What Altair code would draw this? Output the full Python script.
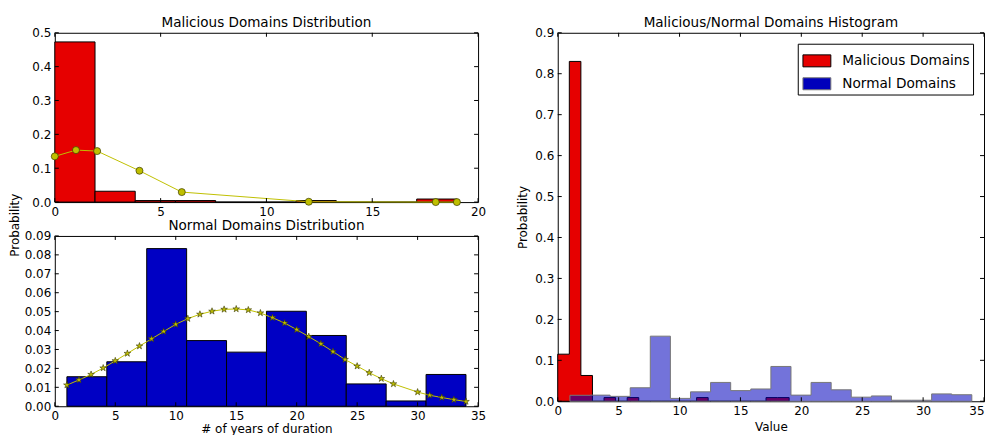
import altair as alt
import pandas as pd

# ---------------- data ----------------
# Top-left: malicious domains (10 bins, density) + fitted curve
mal_edges = [0, 1.9, 3.8, 5.7, 7.6, 9.5, 11.4, 13.3, 15.2, 17.1, 19]
mal_density = [0.473, 0.032, 0.0045, 0.0045, 0.0, 0.0, 0.0045, 0.0, 0.0, 0.009]
mal_fit_x = [0, 1, 2, 4, 6, 12, 18, 19]
mal_fit_y = [0.135, 0.1535, 0.1506, 0.0925, 0.0295, 0.001, 0.0, 0.0]

# Bottom-left: normal domains (10 bins, density) + fitted curve
nor_edges = [1, 4.3, 7.6, 10.9, 14.2, 17.5, 20.8, 24.1, 27.4, 30.7, 34]
nor_density = [0.0156, 0.0235, 0.0833, 0.0347, 0.0286, 0.0502, 0.0374, 0.0118, 0.0028, 0.0168]
nor_fit_x = [1, 2, 3, 4, 5, 6, 7, 8, 9, 10, 11, 12, 13, 14, 15, 16, 17, 18, 19, 20,
             21, 22, 23, 24, 25, 26, 27, 28, 30, 31, 32, 33, 34]
nor_fit_y = [0.0112, 0.0139, 0.0168, 0.0202, 0.0240, 0.0279, 0.0318, 0.0356, 0.0395, 0.0433,
             0.0463, 0.0486, 0.0502, 0.0512, 0.0514, 0.0509, 0.0493, 0.0468, 0.0440, 0.0405,
             0.0368, 0.0330, 0.0289, 0.0247, 0.0212, 0.0177, 0.0146, 0.0118, 0.0075, 0.0058,
             0.0046, 0.0035, 0.0025]

# Right: overlaid histograms (20 bins each)
series_names = ["Malicious Domains", "Normal Domains"]
hist_mal_edges = [0, 0.95, 1.9, 2.85, 3.8, 4.75, 5.7, 6.65, 7.6, 8.55, 9.5, 10.45, 11.4,
                  12.35, 13.3, 14.25, 15.2, 16.15, 17.1, 18.05, 19]
hist_mal = [0.115, 0.830, 0.063, 0.0, 0.009, 0.0, 0.009, 0.0, 0.0, 0.0,
            0.0, 0.0, 0.009, 0.0, 0.0, 0.0, 0.0, 0.0, 0.009, 0.009]
hist_nor_edges = [1, 2.65, 4.3, 5.95, 7.6, 9.25, 10.9, 12.55, 14.2, 15.85, 17.5, 19.15,
                  20.8, 22.45, 24.1, 25.75, 27.4, 29.05, 30.7, 32.35, 34]
hist_nor = [0.0146, 0.015, 0.012, 0.033, 0.159, 0.007, 0.023, 0.046, 0.026, 0.030,
            0.085, 0.015, 0.046, 0.028, 0.010, 0.013, 0.0025, 0.0025, 0.018, 0.016]

# tick values
tl_xticks = [0, 5, 10, 15, 20]
tl_yticks = [0.0, 0.1, 0.2, 0.3, 0.4, 0.5]
bl_xticks = [0, 5, 10, 15, 20, 25, 30, 35]
bl_yticks = [0.0, 0.01, 0.02, 0.03, 0.04, 0.05, 0.06, 0.07, 0.08, 0.09]
r_xticks = [0, 5, 10, 15, 20, 25, 30, 35]
r_yticks = [0.0, 0.1, 0.2, 0.3, 0.4, 0.5, 0.6, 0.7, 0.8, 0.9]

FONT = "DejaVu Sans"
RED = "#e60000"
BLUE = "#0000c4"
YEL = "#bfbf00"
STAR = ("M0,-1L0.223,-0.307L0.951,-0.309L0.361,0.117L0.588,0.809L0,0.38"
        "L-0.588,0.809L-0.361,0.117L-0.951,-0.309L-0.223,-0.307Z")


def inner_ticks(xt, yt, xs, ys, xax, yax, W, H, L=4):
    dx = pd.DataFrame({"v": xt})
    dy = pd.DataFrame({"v": yt})
    base_x = alt.Chart(dx).mark_rule(color="black", strokeWidth=1)
    base_y = alt.Chart(dy).mark_rule(color="black", strokeWidth=1)
    xe = alt.X("v:Q", scale=xs, axis=xax)
    ye = alt.Y("v:Q", scale=ys, axis=yax)
    return [
        base_x.encode(x=xe, y=alt.value(H), y2=alt.value(H - L)),
        base_x.encode(x=xe, y=alt.value(0), y2=alt.value(L)),
        base_y.encode(y=ye, x=alt.value(0), x2=alt.value(L)),
        base_y.encode(y=ye, x=alt.value(W), x2=alt.value(W - L)),
    ]


def panel_title(text):
    return alt.TitleParams(text, frame="group", offset=-3)


# ---------------- top-left ----------------
W_L, H_T, H_B = 425, 170, 171
tl_xs = alt.Scale(domain=[0, 20], nice=False, zero=False)
tl_ys = alt.Scale(domain=[0, 0.5], nice=False)
tl_xax = alt.Axis(values=tl_xticks, format="d", title=None)
tl_yax = alt.Axis(values=tl_yticks, format=".1f", title=None)
df_tl = pd.DataFrame({"x0": mal_edges[:-1], "x1": mal_edges[1:], "h": mal_density})
df_tlf = pd.DataFrame({"x": mal_fit_x, "y": mal_fit_y})

tl_bars = alt.Chart(df_tl).mark_bar(fill=RED, stroke="black", strokeWidth=1).encode(
    x=alt.X("x0:Q", scale=tl_xs, axis=tl_xax),
    x2="x1:Q",
    y=alt.Y("h:Q", scale=tl_ys, axis=tl_yax),
    y2=alt.datum(0),
)
tl_line = alt.Chart(df_tlf).mark_line(color=YEL, strokeWidth=1).encode(
    x=alt.X("x:Q", scale=tl_xs, axis=tl_xax), y=alt.Y("y:Q", scale=tl_ys, axis=tl_yax))
tl_pts = alt.Chart(df_tlf).mark_point(filled=True, shape="circle", fill=YEL, stroke="#3a3a00",
                                      strokeWidth=0.7, size=50, opacity=1).encode(
    x=alt.X("x:Q", scale=tl_xs, axis=tl_xax), y=alt.Y("y:Q", scale=tl_ys, axis=tl_yax))
top_left = alt.layer(tl_bars, tl_line, tl_pts,
                     *inner_ticks(tl_xticks, tl_yticks, tl_xs, tl_ys, tl_xax, tl_yax,
                                  W_L, H_T)).properties(
    width=W_L, height=H_T, title=panel_title("Malicious Domains Distribution"))

# ---------------- bottom-left ----------------
bl_xs = alt.Scale(domain=[0, 35], nice=False, zero=False)
bl_ys = alt.Scale(domain=[0, 0.09], nice=False)
bl_xax = alt.Axis(values=bl_xticks, format="d", title="# of years of duration", titlePadding=2)
bl_yax = alt.Axis(values=bl_yticks, format=".2f", title=None)
df_bl = pd.DataFrame({"x0": nor_edges[:-1], "x1": nor_edges[1:], "h": nor_density})
df_blf = pd.DataFrame({"x": nor_fit_x, "y": nor_fit_y})

bl_bars = alt.Chart(df_bl).mark_bar(fill=BLUE, stroke="black", strokeWidth=1).encode(
    x=alt.X("x0:Q", scale=bl_xs, axis=bl_xax),
    x2="x1:Q",
    y=alt.Y("h:Q", scale=bl_ys, axis=bl_yax),
    y2=alt.datum(0),
)
bl_line = alt.Chart(df_blf).mark_line(color=YEL, strokeWidth=1).encode(
    x=alt.X("x:Q", scale=bl_xs, axis=bl_xax), y=alt.Y("y:Q", scale=bl_ys, axis=bl_yax))
bl_pts = alt.Chart(df_blf).mark_point(filled=True, shape=STAR, fill=YEL, stroke="#3a3a00",
                                      strokeWidth=0.6, size=49, opacity=1).encode(
    x=alt.X("x:Q", scale=bl_xs, axis=bl_xax), y=alt.Y("y:Q", scale=bl_ys, axis=bl_yax))
bottom_left = alt.layer(bl_bars, bl_line, bl_pts,
                        *inner_ticks(bl_xticks, bl_yticks, bl_xs, bl_ys, bl_xax, bl_yax,
                                     W_L, H_B)).properties(
    width=W_L, height=H_B, title=panel_title("Normal Domains Distribution"))

# ---------------- right ----------------
W_R, H_R = 428, 370
r_xs = alt.Scale(domain=[0, 35], nice=False, zero=False)
r_ys = alt.Scale(domain=[0, 0.9], nice=False)
r_xax = alt.Axis(values=r_xticks, format="d", title="Value", titlePadding=5,
                 labelAlign={"condition": {"test": "datum.value >= 35", "value": "right"},
                             "value": "center"})
r_yax = alt.Axis(values=r_yticks, format=".1f", title="Probability", titlePadding=5)
df_r = pd.concat([
    pd.DataFrame({"series": series_names[0], "x": hist_mal_edges, "y": hist_mal + [0.0]}),
    pd.DataFrame({"series": series_names[1], "x": hist_nor_edges, "y": hist_nor + [0.0]}),
], ignore_index=True)

leg = alt.Legend(title=None, orient="top-right")
r_area = alt.Chart(df_r).mark_area(interpolate="step-after", strokeWidth=1).encode(
    x=alt.X("x:Q", scale=r_xs, axis=r_xax),
    y=alt.Y("y:Q", scale=r_ys, stack=None, axis=r_yax),
    fill=alt.Fill("series:N", scale=alt.Scale(domain=series_names, range=[RED, "#0000bb"]),
                  legend=leg),
    stroke=alt.Stroke("series:N", scale=alt.Scale(domain=series_names, range=["black", "#777777"]),
                      legend=leg),
    fillOpacity=alt.FillOpacity("series:N", scale=alt.Scale(domain=series_names, range=[1.0, 0.55]),
                                legend=leg),
)
right = alt.layer(r_area, *inner_ticks(r_xticks, r_yticks, r_xs, r_ys, r_xax, r_yax,
                                       W_R, H_R)).properties(
    width=W_R, height=H_R, title=panel_title("Malicious/Normal Domains Histogram"))

left = alt.vconcat(top_left, bottom_left, spacing=34, bounds="flush").properties(
    title=alt.TitleParams("Probability", orient="left", anchor="middle", fontSize=12,
                          offset=2, frame="bounds")
)
chart = alt.hconcat(left, right, spacing=29).resolve_scale(
    fill="independent", stroke="independent", fillOpacity="independent"
).resolve_legend(
    fill="independent", stroke="independent", fillOpacity="independent"
).properties(
    padding={"left": 0, "top": 6, "right": 0, "bottom": 0}
).configure_view(
    stroke="black", strokeWidth=1
).configure_axis(
    grid=False, domain=False, ticks=False, tickSize=0,
    labelFont=FONT, labelFontSize=12, labelColor="black", labelPadding=4,
    labelFlush=False, labelOverlap=False,
    titleFont=FONT, titleFontSize=12, titleFontWeight="normal", titleColor="black",
).configure_title(
    font=FONT, fontSize=13.6, fontWeight="normal", color="black",
    anchor="middle",
).configure_legend(
    labelFont=FONT, labelFontSize=13.7, labelColor="black",
    symbolType="M-0.857,-0.43L1.143,-0.43L1.143,0.43L-0.857,0.43Z", symbolSize=784,
    symbolStrokeWidth=1, strokeColor="black", fillColor="white",
    padding=2.7, offset=11, rowPadding=-2.4, labelOffset=13, cornerRadius=0,
)

chart.save("out.html", embed_options={"renderer": "svg", "actions": False})
